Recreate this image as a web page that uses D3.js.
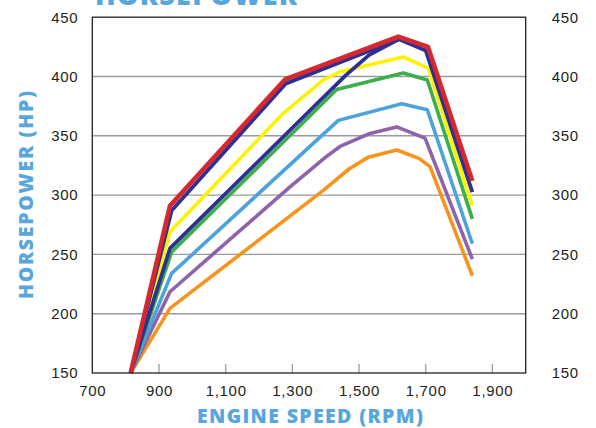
<!DOCTYPE html>
<html>
<head>
<meta charset="utf-8">
<script src="https://cdn.jsdelivr.net/npm/d3@7"></script>
<style>
  body { margin: 0; background: #fff; }
  svg { display: block; }
</style>
</head>
<body>
<div id="chart"></div>
<script>
// ---- data ----
var xTicks = [700, 900, 1100, 1300, 1500, 1700, 1900];
var yTicks = [150, 200, 250, 300, 350, 400, 450];

var redRpm    = [815, 933, 1278, 1618, 1707, 1840];
var redHp     = [150, 291, 397.5, 433.5, 425, 312];
var navyARpm  = [815, 938, 1280, 1620, 1700, 1840];
var navyAHp   = [150, 287, 394, 431.5, 422, 302.5];
var yellowRpm = [815, 933, 1273, 1392, 1443, 1632, 1708, 1840];
var yellowHp  = [150, 269, 369, 397, 404, 416.5, 407, 291];
var navyBRpm  = [815, 933, 1460, 1530, 1620];
var navyBHp   = [150, 255, 401, 418, 431.5];
var greenRpm  = [815, 938, 1433, 1633, 1705, 1840];
var greenHp   = [150, 252, 389, 403, 397, 280];
var blueRpm   = [815, 938, 1438, 1628, 1705, 1840];
var blueHp    = [150, 234, 363, 377, 372, 259];
var purpleRpm = [815, 933, 1293, 1400, 1443, 1533, 1613, 1698, 1840];
var purpleHp  = [150, 218.5, 307, 332, 341, 352, 357.5, 348, 246];
var orangeRpm = [815, 933, 1393, 1470, 1528, 1613, 1680, 1713, 1840];
var orangeHp  = [150, 204.5, 304, 322, 332, 338, 331, 324, 232];

// drawing order: bottom first
var series = [
    {rpm: orangeRpm, hp: orangeHp, color: "#f7941d", w: 3.6},
    {rpm: purpleRpm, hp: purpleHp, color: "#8f63a9", w: 3.6},
    {rpm: blueRpm,   hp: blueHp,   color: "#4ea2db", w: 3.6},
    {rpm: greenRpm,  hp: greenHp,  color: "#3cae4a", w: 3.6},
    {rpm: yellowRpm, hp: yellowHp, color: "#fff200", w: 3.6},
    {rpm: navyBRpm,  hp: navyBHp,  color: "#2e3192", w: 3.8},
    {rpm: navyARpm,  hp: navyAHp,  color: "#2e3192", w: 3.8},
    {rpm: redRpm,    hp: redHp,    color: "#d7282f", w: 4.6}
];

var W = 596, H = 428;
var margin = {top: 17.2, bottom: 55, left: 92.3, right: 70.3};
var blue = "#59a6dc";
var tickFont = "Liberation Sans, Arial, sans-serif";

var svg = d3.select("#chart").append("svg")
    .attr("width", W)
    .attr("height", H);

var xScale = d3.scaleLinear()
    .domain([700, 2000])
    .range([margin.left, W - margin.right]);

var yScale = d3.scaleLinear()
    .domain([150, 450])
    .range([H - margin.bottom, margin.top]);

// horizontal grid
svg.append("g")
    .selectAll("line")
    .data(yTicks.slice(1, -1))
    .enter().append("line")
    .attr("x1", xScale(700))
    .attr("x2", xScale(2000))
    .attr("y1", d => yScale(d))
    .attr("y2", d => yScale(d))
    .attr("stroke", "#9a9a9a")
    .attr("stroke-width", 1.4);

// bottom axis: inner gray ticks, labels below
var xAxis = d3.axisBottom(xScale)
    .tickValues(xTicks)
    .tickSize(0)
    .tickPadding(12)
    .tickFormat(d3.format(","));

var gx = svg.append("g")
    .attr("transform", "translate(0," + yScale(150) + ")")
    .call(xAxis);
gx.select(".domain").remove();
gx.selectAll("text")
    .attr("font-family", tickFont)
    .attr("font-size", 15)
    .attr("letter-spacing", 0.7)
    .attr("fill", "#231f20");

svg.append("g")
    .selectAll("line")
    .data(xTicks.slice(1))
    .enter().append("line")
    .attr("x1", d => xScale(d))
    .attr("x2", d => xScale(d))
    .attr("y1", yScale(150))
    .attr("y2", yScale(150) - 9)
    .attr("stroke", "#a8a8a8")
    .attr("stroke-width", 1.5);

// left and right value labels
var yAxisL = d3.axisLeft(yScale).tickValues(yTicks).tickSize(0).tickPadding(14);
var yAxisR = d3.axisRight(yScale).tickValues(yTicks).tickSize(0).tickPadding(26);

[[yAxisL, xScale(700)], [yAxisR, xScale(2000)]].forEach(function(a) {
    var g = svg.append("g")
        .attr("transform", "translate(" + a[1] + ",0)")
        .call(a[0]);
    g.select(".domain").remove();
    g.selectAll("text")
        .attr("font-family", tickFont)
        .attr("font-size", 15)
        .attr("letter-spacing", 0.7)
        .attr("fill", "#231f20");
});

// the lines
var line = d3.line()
    .x(d => xScale(d[0]))
    .y(d => yScale(d[1]));

svg.append("g")
    .selectAll("path")
    .data(series)
    .enter().append("path")
    .attr("d", s => line(d3.zip(s.rpm, s.hp)))
    .attr("fill", "none")
    .attr("stroke", s => s.color)
    .attr("stroke-width", s => s.w)
    .attr("stroke-linejoin", "round");

// frame
svg.append("rect")
    .attr("x", xScale(700))
    .attr("y", yScale(450))
    .attr("width", xScale(2000) - xScale(700))
    .attr("height", yScale(150) - yScale(450))
    .attr("fill", "none")
    .attr("stroke", "#231f20")
    .attr("stroke-width", 1.3);

// titles (the top one is cut by the page edge, as in the source)
svg.append("text")
    .attr("x", 95)
    .attr("y", 5)
    .attr("textLength", 202)
    .attr("font-family", "Open Sans, sans-serif")
    .attr("font-weight", 800)
    .attr("font-size", 27)
    .attr("fill", blue)
    .text("HORSEPOWER");

svg.append("text")
    .attr("x", 197)
    .attr("y", 423)
    .attr("textLength", 226)
    .attr("font-family", "Open Sans, sans-serif")
    .attr("font-weight", 800)
    .attr("font-size", 19.5)
    .attr("fill", blue)
    .text("ENGINE SPEED (RPM)");

svg.append("text")
    .attr("transform", "translate(33,299) rotate(-90)")
    .attr("textLength", 208)
    .attr("font-family", "Open Sans, sans-serif")
    .attr("font-weight", 800)
    .attr("font-size", 19.5)
    .attr("fill", blue)
    .text("HORSEPOWER (HP)");
</script>
</body>
</html>
